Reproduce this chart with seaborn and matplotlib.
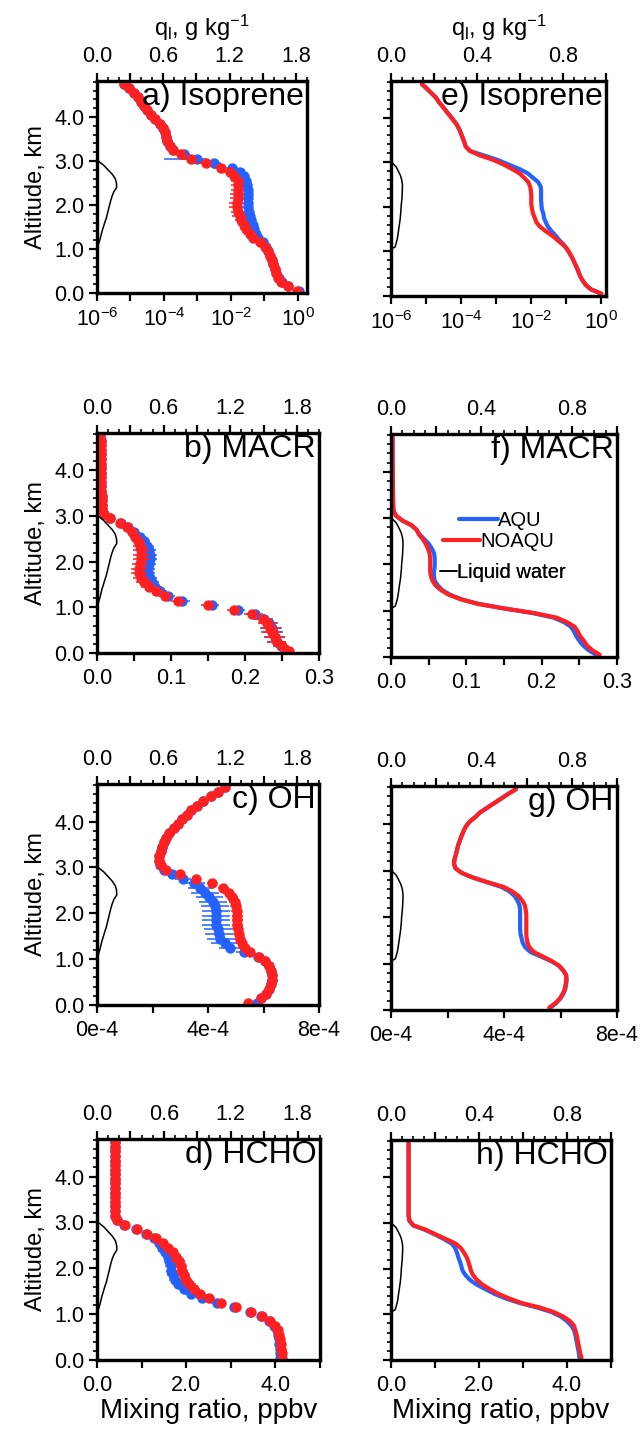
import numpy as np
import matplotlib
matplotlib.use("Agg")
import matplotlib.pyplot as plt
from matplotlib.lines import Line2D
from matplotlib.ticker import MultipleLocator, NullLocator
import seaborn as sns

sns.set_theme(style="ticks")
plt.rcParams["font.family"] = ["Liberation Sans", "DejaVu Sans"]
plt.rcParams["mathtext.fontset"] = "custom"
plt.rcParams["mathtext.rm"] = "Liberation Sans"
plt.rcParams["mathtext.it"] = "Liberation Sans:italic"
plt.rcParams["mathtext.bf"] = "Liberation Sans:bold"
for k in ("text.color", "axes.labelcolor", "xtick.color", "ytick.color"):
    plt.rcParams[k] = "black"

# ---------------- data ----------------
altitude = [0.05, 0.15, 0.25, 0.35, 0.45, 0.55, 0.65, 0.75, 0.85, 0.95,
            1.05, 1.15, 1.25, 1.35, 1.45, 1.55, 1.65, 1.75, 1.85, 1.95,
            2.05, 2.15, 2.25, 2.35, 2.45, 2.55, 2.65, 2.75, 2.85, 2.95,
            3.05, 3.15, 3.25, 3.35, 3.45, 3.55, 3.65, 3.75, 3.85, 3.95,
            4.05, 4.15, 4.25, 4.35, 4.45, 4.55, 4.65, 4.75]

# Isoprene (ppbv) - left column: mean +- spread, right column: model lines
isop_obs_aqu = [1.1, 0.52, 0.33, 0.27, 0.225, 0.2, 0.185, 0.167, 0.148, 0.127,
                0.11, 0.09, 0.066, 0.056, 0.05, 0.044, 0.039, 0.036, 0.034, 0.033,
                0.033, 0.033, 0.033, 0.032, 0.030, 0.028, 0.024, 0.0186, 0.011, 0.0032,
                1.0e-3, 4.0e-4, 1.9e-4, 1.5e-4, 1.26e-4, 1.15e-4, 1.05e-4, 9.5e-5, 7.6e-5, 5.4e-5,
                4.2e-5, 3.2e-5, 2.5e-5, 2.1e-5, 1.7e-5, 1.26e-5, 8.9e-6, 6.3e-6]
isop_obs_noaqu = [0.95, 0.5, 0.32, 0.26, 0.22, 0.2, 0.18, 0.165, 0.147, 0.125,
                  0.105, 0.075, 0.047, 0.036, 0.028, 0.024, 0.02, 0.018, 0.0165, 0.0155,
                  0.0155, 0.0158, 0.016, 0.0165, 0.0166, 0.016, 0.0126, 0.0093, 0.005, 0.0018,
                  6.3e-4, 3.2e-4, 1.8e-4, 1.5e-4, 1.25e-4, 1.13e-4, 1.04e-4, 9.4e-5, 7.5e-5, 5.4e-5,
                  4.2e-5, 3.2e-5, 2.5e-5, 2.1e-5, 1.7e-5, 1.26e-5, 8.9e-6, 6.3e-6]
isop_err_aqu = [0.1, 0.04, 0.02, 0.015, 0.012, 0.012, 0.012, 0.012, 0.012, 0.012,
                0.012, 0.015, 0.018, 0.017, 0.016, 0.015, 0.013, 0.012, 0.011, 0.011,
                0.011, 0.011, 0.011, 0.011, 0.010, 0.009, 0.008, 0.007, 0.005, 0.002,
                9e-4, 2e-4, 4e-5, 1.5e-5, 1.2e-5, 1.0e-5, 1.0e-5, 9e-6, 7e-6, 5e-6,
                4e-6, 3e-6, 2.5e-6, 2e-6, 1.7e-6, 1.2e-6, 9e-7, 6e-7]
isop_err_noaqu = [0.08, 0.04, 0.02, 0.015, 0.012, 0.012, 0.012, 0.012, 0.012, 0.012,
                  0.012, 0.012, 0.012, 0.011, 0.009, 0.008, 0.007, 0.007, 0.0065, 0.0065,
                  0.0065, 0.0065, 0.0065, 0.0065, 0.0065, 0.006, 0.005, 0.004, 0.002, 8e-4,
                  3e-4, 1e-4, 3e-5, 1.5e-5, 1.2e-5, 1.0e-5, 1.0e-5, 9e-6, 7e-6, 5e-6,
                  4e-6, 3e-6, 2.5e-6, 2e-6, 1.7e-6, 1.2e-6, 9e-7, 6e-7]
isop_mod_aqu = [1.0, 0.5, 0.355, 0.29, 0.245, 0.22, 0.195, 0.17, 0.148, 0.126,
                0.105, 0.085, 0.063, 0.05, 0.038, 0.030, 0.026, 0.023, 0.022, 0.020,
                0.0195, 0.019, 0.019, 0.019, 0.0186, 0.0158, 0.0112, 0.0079, 0.0045, 0.0022,
                1.1e-3, 4.5e-4, 1.8e-4, 1.35e-4, 1.23e-4, 1.1e-4, 9.8e-5, 8.7e-5, 7.4e-5, 5.9e-5,
                4.7e-5, 3.7e-5, 2.95e-5, 2.3e-5, 1.9e-5, 1.4e-5, 1.05e-5, 7.6e-6]
isop_mod_noaqu = [1.0, 0.5, 0.355, 0.29, 0.245, 0.22, 0.195, 0.17, 0.148, 0.126,
                  0.105, 0.08, 0.056, 0.04, 0.026, 0.018, 0.014, 0.0126, 0.0112, 0.0105,
                  0.01, 0.01, 0.01, 0.0098, 0.0093, 0.0083, 0.0063, 0.0046, 0.0028, 0.0016,
                  8.3e-4, 3.5e-4, 1.8e-4, 1.35e-4, 1.23e-4, 1.1e-4, 9.8e-5, 8.7e-5, 7.4e-5, 5.9e-5,
                  4.7e-5, 3.7e-5, 2.95e-5, 2.3e-5, 1.9e-5, 1.4e-5, 1.05e-5, 7.6e-6]

# MACR (ppbv)
macr_obs_aqu = [0.255, 0.248, 0.243, 0.24, 0.238, 0.236, 0.232, 0.226, 0.213, 0.19,
                0.155, 0.115, 0.096, 0.085, 0.078, 0.074, 0.071, 0.069, 0.069, 0.07,
                0.071, 0.071, 0.07, 0.067, 0.063, 0.058, 0.05, 0.042, 0.032, 0.018,
                0.009, 0.007, 0.0065, 0.0063, 0.0062, 0.006, 0.0058, 0.0057, 0.0056, 0.0055,
                0.0054, 0.0053, 0.0052, 0.0051, 0.005, 0.0049, 0.0048, 0.0047]
macr_obs_noaqu = [0.26, 0.25, 0.243, 0.24, 0.236, 0.234, 0.23, 0.224, 0.21, 0.185,
                  0.15, 0.11, 0.092, 0.08, 0.07, 0.064, 0.059, 0.057, 0.057, 0.058,
                  0.06, 0.06, 0.06, 0.058, 0.056, 0.052, 0.047, 0.041, 0.031, 0.018,
                  0.009, 0.007, 0.0065, 0.0063, 0.0062, 0.006, 0.0058, 0.0057, 0.0056, 0.0055,
                  0.0054, 0.0053, 0.0052, 0.0051, 0.005, 0.0049, 0.0048, 0.0047]
macr_err_aqu = [0.006, 0.01, 0.013, 0.014, 0.014, 0.014, 0.013, 0.012, 0.011, 0.01,
                0.01, 0.01, 0.01, 0.01, 0.01, 0.01, 0.01, 0.01, 0.01, 0.01,
                0.01, 0.01, 0.01, 0.01, 0.009, 0.008, 0.007, 0.006, 0.004, 0.003,
                0.001, 5e-4, 3e-4, 3e-4, 3e-4, 3e-4, 3e-4, 3e-4, 3e-4, 3e-4,
                3e-4, 3e-4, 3e-4, 3e-4, 3e-4, 3e-4, 3e-4, 3e-4]
macr_err_noaqu = [0.006, 0.01, 0.013, 0.014, 0.014, 0.014, 0.013, 0.012, 0.011, 0.01,
                  0.01, 0.01, 0.01, 0.011, 0.011, 0.011, 0.011, 0.011, 0.011, 0.011,
                  0.011, 0.011, 0.011, 0.01, 0.009, 0.008, 0.007, 0.006, 0.004, 0.003,
                  0.001, 5e-4, 3e-4, 3e-4, 3e-4, 3e-4, 3e-4, 3e-4, 3e-4, 3e-4,
                  3e-4, 3e-4, 3e-4, 3e-4, 3e-4, 3e-4, 3e-4, 3e-4]
macr_mod_aqu = [0.272, 0.262, 0.255, 0.25, 0.246, 0.243, 0.239, 0.23, 0.216, 0.188,
                0.15, 0.115, 0.093, 0.078, 0.068, 0.062, 0.058, 0.057, 0.057, 0.058,
                0.058, 0.058, 0.057, 0.054, 0.05, 0.044, 0.038, 0.034, 0.027, 0.015,
                0.007, 0.0035, 0.003, 0.0028, 0.0027, 0.0026, 0.0025, 0.0024, 0.0024, 0.0023,
                0.0023, 0.0022, 0.0022, 0.0021, 0.0021, 0.002, 0.002, 0.002]
macr_mod_noaqu = [0.277, 0.267, 0.26, 0.256, 0.251, 0.248, 0.244, 0.234, 0.22, 0.19,
                  0.15, 0.115, 0.092, 0.076, 0.066, 0.059, 0.055, 0.053, 0.052, 0.052,
                  0.052, 0.052, 0.051, 0.049, 0.046, 0.042, 0.037, 0.034, 0.027, 0.015,
                  0.007, 0.0035, 0.003, 0.0028, 0.0027, 0.0026, 0.0025, 0.0024, 0.0024, 0.0023,
                  0.0023, 0.0022, 0.0022, 0.0021, 0.0021, 0.002, 0.002, 0.002]

# OH (ppbv), listed in units of 1e-4 ppbv
oh_obs_aqu = [5.75, 5.9, 6.1, 6.2, 6.27, 6.29, 6.29, 6.27, 6.2, 6.05,
              5.8, 5.3, 4.78, 4.6, 4.45, 4.4, 4.35, 4.3, 4.3, 4.3,
              4.28, 4.25, 4.18, 4.05, 3.9, 3.72, 3.5, 3.1, 2.7, 2.4,
              2.27, 2.23, 2.25, 2.3, 2.35, 2.42, 2.5, 2.61, 2.76, 2.92,
              3.06, 3.25, 3.4, 3.6, 3.82, 4.1, 4.35, 4.6]
oh_obs_noaqu = [5.45, 5.9, 6.1, 6.2, 6.27, 6.29, 6.29, 6.27, 6.2, 6.05,
                5.85, 5.5, 5.33, 5.22, 5.14, 5.1, 5.07, 5.05, 5.05, 5.05,
                5.03, 5.0, 4.96, 4.88, 4.75, 4.55, 4.15, 3.58, 3.0, 2.5,
                2.3, 2.23, 2.25, 2.3, 2.35, 2.42, 2.5, 2.61, 2.76, 2.92,
                3.06, 3.25, 3.4, 3.6, 3.82, 4.1, 4.35, 4.6]
oh_err_aqu = [0.1, 0.1, 0.1, 0.1, 0.1, 0.1, 0.1, 0.1, 0.1, 0.1,
              0.1, 0.3, 0.4, 0.5, 0.5, 0.5, 0.5, 0.5, 0.5, 0.5,
              0.5, 0.5, 0.5, 0.5, 0.5, 0.45, 0.4, 0.3, 0.2, 0.1,
              0.05, 0.05, 0.05, 0.05, 0.05, 0.05, 0.05, 0.05, 0.05, 0.05,
              0.05, 0.05, 0.05, 0.05, 0.05, 0.05, 0.05, 0.05]
oh_err_noaqu = [0.1, 0.1, 0.1, 0.1, 0.1, 0.1, 0.1, 0.1, 0.1, 0.1,
                0.1, 0.15, 0.2, 0.2, 0.2, 0.2, 0.2, 0.2, 0.2, 0.2,
                0.2, 0.2, 0.2, 0.2, 0.2, 0.2, 0.2, 0.15, 0.1, 0.1,
                0.05, 0.05, 0.05, 0.05, 0.05, 0.05, 0.05, 0.05, 0.05, 0.05,
                0.05, 0.05, 0.05, 0.05, 0.05, 0.05, 0.05, 0.05]
oh_mod_aqu = [5.65, 5.85, 6.0, 6.1, 6.17, 6.2, 6.22, 6.2, 6.1, 5.95,
              5.68, 5.3, 4.93, 4.75, 4.66, 4.62, 4.58, 4.57, 4.57, 4.57,
              4.57, 4.57, 4.55, 4.48, 4.38, 4.2, 3.9, 3.39, 2.9, 2.5,
              2.28, 2.23, 2.25, 2.3, 2.34, 2.38, 2.44, 2.5, 2.57, 2.65,
              2.78, 2.98, 3.15, 3.4, 3.65, 3.9, 4.15, 4.42]
oh_mod_noaqu = [5.6, 5.82, 5.98, 6.08, 6.15, 6.18, 6.2, 6.2, 6.1, 5.95,
                5.7, 5.38, 5.05, 4.9, 4.83, 4.8, 4.79, 4.79, 4.79, 4.79,
                4.79, 4.77, 4.74, 4.65, 4.52, 4.3, 3.98, 3.42, 2.9, 2.5,
                2.28, 2.23, 2.25, 2.3, 2.34, 2.38, 2.44, 2.5, 2.57, 2.65,
                2.78, 2.98, 3.15, 3.4, 3.65, 3.9, 4.15, 4.42]
OH_UNIT = 1e-4

# HCHO (ppbv)
hcho_obs_aqu = [4.1, 4.11, 4.1, 4.09, 4.08, 4.06, 4.03, 3.97, 3.85, 3.68,
                3.42, 3.08, 2.68, 2.35, 2.1, 1.95, 1.82, 1.74, 1.7, 1.67,
                1.65, 1.62, 1.59, 1.53, 1.46, 1.38, 1.28, 1.1, 0.88, 0.6,
                0.44, 0.41, 0.41, 0.41, 0.41, 0.41, 0.41, 0.41, 0.41, 0.41,
                0.41, 0.41, 0.41, 0.41, 0.41, 0.41, 0.41, 0.41]
hcho_obs_noaqu = [4.15, 4.14, 4.13, 4.12, 4.1, 4.08, 4.05, 3.99, 3.88, 3.7,
                  3.45, 3.12, 2.78, 2.52, 2.3, 2.17, 2.07, 2.0, 1.95, 1.91,
                  1.88, 1.83, 1.78, 1.7, 1.6, 1.48, 1.33, 1.12, 0.9, 0.62,
                  0.44, 0.41, 0.41, 0.41, 0.41, 0.41, 0.41, 0.41, 0.41, 0.41,
                  0.41, 0.41, 0.41, 0.41, 0.41, 0.41, 0.41, 0.41]
hcho_err_aqu = [0.05, 0.05, 0.05, 0.05, 0.05, 0.05, 0.05, 0.05, 0.06, 0.07,
                0.08, 0.1, 0.12, 0.12, 0.12, 0.12, 0.12, 0.12, 0.12, 0.12,
                0.12, 0.12, 0.12, 0.12, 0.12, 0.1, 0.08, 0.06, 0.05, 0.04,
                0.02, 0.02, 0.02, 0.02, 0.02, 0.02, 0.02, 0.02, 0.02, 0.02,
                0.02, 0.02, 0.02, 0.02, 0.02, 0.02, 0.02, 0.02]
hcho_err_noaqu = [0.05, 0.05, 0.05, 0.05, 0.05, 0.05, 0.05, 0.05, 0.06, 0.07,
                  0.08, 0.1, 0.12, 0.13, 0.14, 0.14, 0.14, 0.14, 0.14, 0.14,
                  0.14, 0.14, 0.13, 0.12, 0.11, 0.1, 0.08, 0.06, 0.05, 0.04,
                  0.02, 0.02, 0.02, 0.02, 0.02, 0.02, 0.02, 0.02, 0.02, 0.02,
                  0.02, 0.02, 0.02, 0.02, 0.02, 0.02, 0.02, 0.02]
hcho_mod_aqu = [4.28, 4.27, 4.25, 4.23, 4.21, 4.19, 4.16, 4.1, 4.0, 3.86,
                3.65, 3.32, 2.92, 2.6, 2.35, 2.15, 1.95, 1.8, 1.7, 1.63,
                1.6, 1.57, 1.53, 1.5, 1.46, 1.38, 1.2, 1.0, 0.78, 0.5,
                0.42, 0.4, 0.4, 0.4, 0.4, 0.4, 0.4, 0.4, 0.4, 0.4,
                0.4, 0.4, 0.4, 0.4, 0.4, 0.4, 0.4, 0.4]
hcho_mod_noaqu = [4.33, 4.3, 4.28, 4.26, 4.24, 4.22, 4.19, 4.16, 4.07, 3.92,
                  3.7, 3.38, 2.96, 2.68, 2.44, 2.25, 2.08, 1.96, 1.87, 1.82,
                  1.79, 1.76, 1.72, 1.66, 1.59, 1.47, 1.25, 1.02, 0.8, 0.51,
                  0.42, 0.4, 0.4, 0.4, 0.4, 0.4, 0.4, 0.4, 0.4, 0.4,
                  0.4, 0.4, 0.4, 0.4, 0.4, 0.4, 0.4, 0.4]

# Liquid water content q_l (g/kg)
lw_altitude = [1.05, 1.1, 1.2, 1.3, 1.4, 1.5, 1.6, 1.7, 1.8, 1.9, 2.0,
               2.1, 2.2, 2.3, 2.4, 2.5, 2.6, 2.7, 2.8, 2.9, 3.0]
lw_left = [0.0, 0.012, 0.025, 0.035, 0.045, 0.058, 0.07, 0.084, 0.094, 0.104, 0.114,
           0.124, 0.136, 0.152, 0.178, 0.176, 0.165, 0.138, 0.1, 0.062, 0.012]
lw_right = [0.0, 0.019, 0.025, 0.03, 0.033, 0.036, 0.039, 0.042, 0.044, 0.046, 0.047,
            0.049, 0.051, 0.052, 0.053, 0.053, 0.05, 0.044, 0.034, 0.023, 0.003]

left_titles = ["a) Isoprene", "b) MACR", "c) OH", "d) HCHO"]
right_titles = ["e) Isoprene", "f) MACR", "g) OH", "h) HCHO"]
legend_labels = ["AQU", "NOAQU", "Liquid water"]

BLUE = "#2462ff"
RED = "#ff2121"

rows = [
    dict(obs=(isop_obs_aqu, isop_obs_noaqu, isop_err_aqu, isop_err_noaqu),
         mod=(isop_mod_aqu, isop_mod_noaqu), scale=1.0, log=True,
         xlim_l=(1e-6, 1.86), xlim_r=(1e-6, 1.35),
         ticks=[1e-6, 1e-5, 1e-4, 1e-3, 1e-2, 1e-1, 1.0],
         labels=[r"$10^{-6}$", "", r"$10^{-4}$", "", r"$10^{-2}$", "", r"$10^{0}$"]),
    dict(obs=(macr_obs_aqu, macr_obs_noaqu, macr_err_aqu, macr_err_noaqu),
         mod=(macr_mod_aqu, macr_mod_noaqu), scale=1.0, log=False,
         xlim_l=(0, 0.3), xlim_r=(0, 0.3),
         ticks=[0.0, 0.05, 0.1, 0.15, 0.2, 0.25, 0.3],
         labels=["0.0", "", "0.1", "", "0.2", "", "0.3"]),
    dict(obs=(oh_obs_aqu, oh_obs_noaqu, oh_err_aqu, oh_err_noaqu),
         mod=(oh_mod_aqu, oh_mod_noaqu), scale=OH_UNIT, log=False,
         xlim_l=(0, 8e-4), xlim_r=(0, 8e-4),
         ticks=[0.0, 2e-4, 4e-4, 6e-4, 8e-4],
         labels=["0e-4", "", "4e-4", "", "8e-4"]),
    dict(obs=(hcho_obs_aqu, hcho_obs_noaqu, hcho_err_aqu, hcho_err_noaqu),
         mod=(hcho_mod_aqu, hcho_mod_noaqu), scale=1.0, log=False,
         xlim_l=(0, 5.0), xlim_r=(0, 5.0),
         ticks=[0.0, 1.0, 2.0, 3.0, 4.0, 5.0],
         labels=["0.0", "", "2.0", "", "4.0", ""]),
]

left_boxes = [(97, 81, 307, 293), (97, 433, 319, 653), (97, 784, 319, 1005), (97, 1139, 320, 1360)]
right_boxes = [(391, 81, 606, 296), (391, 434, 617, 657), (391, 786, 617, 1010), (391, 1140, 611, 1360)]

W, H = 641, 1430
fig = plt.figure(figsize=(W / 100, H / 100), dpi=100)


def rect(b):
    x0, y0, x1, y1 = b
    return [x0 / W, 1 - y1 / H, (x1 - x0) / W, (y1 - y0) / H]


TICK_FS = 15.5
YMAX = 4.82


def style(ax, axt, row, col, spec):
    for a in (ax, axt):
        for s in a.spines.values():
            s.set_linewidth(2.3)
            s.set_color("black")
    ax.set_ylim(0, YMAX)
    ax.yaxis.set_major_locator(MultipleLocator(1.0))
    ax.yaxis.set_minor_locator(MultipleLocator(0.2))
    ax.tick_params(axis="y", which="major", direction="out", length=6, width=1.6,
                   left=True, right=False, labelleft=(col == 0), labelsize=TICK_FS, pad=3)
    ax.tick_params(axis="y", which="minor", direction="out", length=3, width=1.2,
                   left=True, right=False)
    if col == 0:
        ax.set_yticklabels([f"{v:.1f}" for v in ax.get_yticks()])
        ax.set_ylabel("Altitude, km", fontsize=17, labelpad=5)
    # bottom axis
    if spec["log"]:
        ax.set_xscale("log")
    ax.set_xlim(*(spec["xlim_l"] if col == 0 else spec["xlim_r"]))
    ax.set_xticks(spec["ticks"])
    ax.set_xticklabels(spec["labels"])
    ax.xaxis.set_minor_locator(NullLocator())
    ax.tick_params(axis="x", which="major", direction="out", length=6, width=1.6,
                   bottom=True, top=False, labelsize=TICK_FS, pad=5)
    if row == 3:
        ax.set_xlabel("Mixing ratio, ppbv", fontsize=20, labelpad=1)
    # top axis (liquid water)
    if col == 0:
        top_max = 1.9 if row == 0 else 2.0
        axt.set_xlim(0, top_max)
        axt.set_xticks([0.0, 0.3, 0.6, 0.9, 1.2, 1.5, 1.8])
        axt.set_xticklabels(["0.0", "", "0.6", "", "1.2", "", "1.8"])
        axt.xaxis.set_minor_locator(MultipleLocator(0.1))
    else:
        axt.set_xlim(0, 1.0)
        axt.set_xticks([0.0, 0.2, 0.4, 0.6, 0.8, 1.0])
        axt.set_xticklabels(["0.0", "", "0.4", "", "0.8", ""])
        axt.xaxis.set_minor_locator(MultipleLocator(0.05))
    axt.tick_params(axis="x", which="major", direction="out", length=6, width=1.6,
                    top=True, bottom=False, labeltop=True, labelbottom=False,
                    labelsize=TICK_FS, pad=4)
    axt.tick_params(axis="x", which="minor", direction="out", length=3, width=1.2,
                    top=True, bottom=False)
    if row == 0:
        axt.set_xlabel(r"q$_{\rm l}$, g kg$^{\rm{{-}1}}$", fontsize=17, labelpad=7)
    ax.set_ylim(0, YMAX)


for r, spec in enumerate(rows):
    sc = spec["scale"]
    alt = np.array(altitude)
    # -------- left: mean profiles with spread --------
    ax = fig.add_axes(rect(left_boxes[r]))
    ax.set_facecolor("white")
    aqu, noaqu, eaqu, enoaqu = [np.array(v) * sc for v in spec["obs"]]
    ax.errorbar(aqu, alt, xerr=eaqu, fmt="none", ecolor=BLUE, elinewidth=1.1, capsize=0, zorder=2)
    sns.scatterplot(x=aqu, y=alt, ax=ax, color=BLUE, s=56, linewidth=0, zorder=3)
    ax.errorbar(noaqu, alt, xerr=enoaqu, fmt="none", ecolor=RED, elinewidth=1.1, capsize=0, zorder=4)
    sns.scatterplot(x=noaqu, y=alt, ax=ax, color=RED, s=56, linewidth=0, zorder=5)
    axt = ax.twiny()
    sns.lineplot(x=lw_left, y=lw_altitude, ax=axt, color="black", lw=1.1,
                 orient="y", estimator=None)
    style(ax, axt, r, 0, spec)
    axt.text(0.985, 0.995, left_titles[r], transform=ax.transAxes, ha="right", va="top",
             fontsize=23)

    # -------- right: model profiles --------
    ax = fig.add_axes(rect(right_boxes[r]))
    ax.set_facecolor("white")
    maqu, mnoaqu = [np.array(v) * sc for v in spec["mod"]]
    sns.lineplot(x=maqu, y=alt, ax=ax, color=BLUE, lw=3.0, orient="y", estimator=None)
    sns.lineplot(x=mnoaqu, y=alt, ax=ax, color=RED, lw=3.0, orient="y", estimator=None)
    axt = ax.twiny()
    sns.lineplot(x=lw_right, y=lw_altitude, ax=axt, color="black", lw=1.1,
                 orient="y", estimator=None)
    style(ax, axt, r, 1, spec)
    axt.text(0.985, 0.995, right_titles[r], transform=ax.transAxes, ha="right", va="top",
             fontsize=23)
    if r == 1:
        # NCL-style staggered legend: one entry per legend box
        entries = [(Line2D([], [], color=BLUE, lw=3.0), legend_labels[0], (0.30, 0.614), 1.95),
                   (Line2D([], [], color=RED, lw=3.0), legend_labels[1], (0.23, 0.516), 1.85),
                   (Line2D([], [], color="black", lw=1.1), legend_labels[2], (0.217, 0.377), 0.85)]
        for h, lab, anchor, hl in entries:
            leg = axt.legend([h], [lab], loc="center left", bbox_to_anchor=anchor,
                             bbox_transform=ax.transAxes, frameon=False, fontsize=14.5,
                             handlelength=hl, handletextpad=0.0, borderpad=0,
                             borderaxespad=0)
            axt.add_artist(leg)

fig.savefig("out.png", dpi=100, facecolor="white")
